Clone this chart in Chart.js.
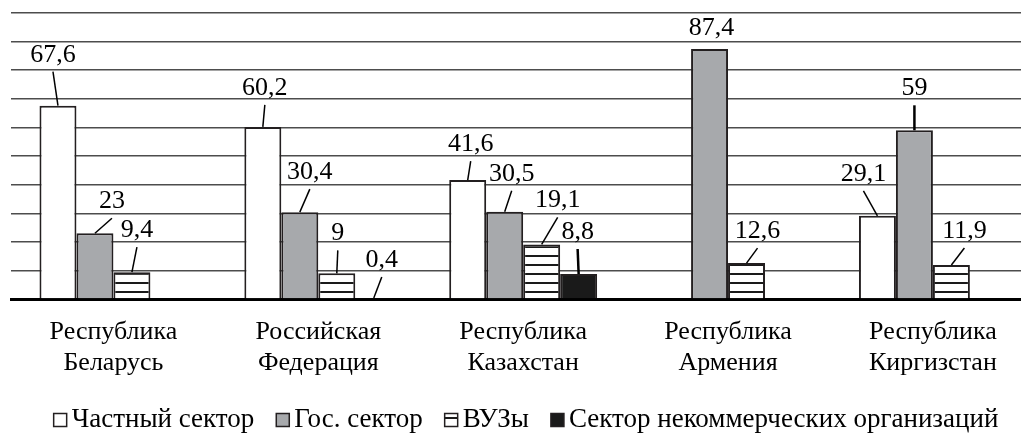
<!DOCTYPE html>
<html>
<head>
<meta charset="utf-8">
<script src="https://cdn.jsdelivr.net/npm/chart.js@4"></script>
<style>
  body { margin: 0; background: #fff; }
</style>
</head>
<body>
<canvas id="myChart" width="1021" height="434"></canvas>
<script>
// data
var categories = [
    ['Республика', 'Беларусь'],
    ['Российская', 'Федерация'],
    ['Республика', 'Казахстан'],
    ['Республика', 'Армения'],
    ['Республика', 'Киргизстан']
];
var seriesNames = ['Частный сектор', 'Гос. сектор', 'ВУЗы', 'Сектор некоммерческих организаций'];
var privateSector = [67.6, 60.2, 41.6, null, 29.1];
var stateSector = [23, 30.4, 30.5, 87.4, 59];
var universities = [9.4, 9, 19.1, 12.6, 11.9];
var nonprofit = [null, 0.4, 8.8, null, null];
var yTicks = [0, 10, 20, 30, 40, 50, 60, 70, 80, 90, 100];

// label placement: [dx, dy, leader width] from bar top centre
var labelOffsets = [
    [[-5, -51, 1.5], [2, -39, 1.5], [3, -36, 1.5], null, [-14, -42, 1.5]],
    [[17, -32, 1.5], [10, -40, 1.5], [7, -38, 1.5], [2, -21, 0], [0, -42, 2.5]],
    [[5, -42, 1.5], [1, -40, 1.5], [16, -44, 1.5], [11, -32, 1.5], [13, -34, 1.5]],
    [null, [8, -38, 1.5], [-1, -42, 2.5], null, null]
];

var fontName = '"Liberation Serif", "Times New Roman", serif';

function stripes() {
    var c = document.createElement('canvas');
    c.width = 10;
    c.height = 9;
    var g = c.getContext('2d');
    g.fillStyle = '#fff';
    g.fillRect(0, 0, 10, 9);
    g.fillStyle = '#1a1a1a';
    g.fillRect(0, 3, 10, 2);
    return g.createPattern(c, 'repeat');
}

var ctx = document.getElementById('myChart').getContext('2d');
var stripePattern = stripes();
var fills = ['#ffffff', '#a7a9ac', stripePattern, '#1a1a1a'];
var allSeries = [privateSector, stateSector, universities, nonprofit];

function toPoints(arr) {
    return arr.map(function (v, i) { return { x: i, y: v }; });
}

var valueLabels = {
    id: 'valueLabels',
    afterDatasetsDraw: function (chart) {
        var c = chart.ctx;
        c.save();
        c.font = '26px ' + fontName;
        c.fillStyle = '#000';
        c.textAlign = 'center';
        c.textBaseline = 'middle';
        chart.data.datasets.forEach(function (ds, d) {
            var meta = chart.getDatasetMeta(d);
            meta.data.forEach(function (bar, i) {
                var v = allSeries[d][i];
                if (v === null) return;
                var off = labelOffsets[d][i];
                var lx = bar.x + off[0], ly = bar.y + off[1];
                if (off[2] > 0) {
                    c.beginPath();
                    c.strokeStyle = '#000';
                    c.lineWidth = off[2];
                    c.moveTo(lx, ly + 17);
                    c.lineTo(bar.x, bar.y);
                    c.stroke();
                }
                c.fillText(String(v).replace('.', ','), lx, ly);
            });
        });
        c.restore();
    }
};

// legend drawn by hand so the marker sits right next to its text
var customLegend = {
    id: 'customLegend',
    afterDraw: function (chart) {
        var c = chart.ctx;
        c.save();
        c.font = '27px ' + fontName;
        var box = 13, gapIn = 5, gapOut = 22;
        var widths = seriesNames.map(function (t) { return c.measureText(t).width; });
        var total = 0;
        widths.forEach(function (w) { total += box + gapIn + w; });
        total += gapOut * (seriesNames.length - 1);
        var x = 526 - total / 2;
        var y = 420;
        c.textBaseline = 'middle';
        c.textAlign = 'left';
        seriesNames.forEach(function (t, k) {
            c.fillStyle = fills[k];
            c.fillRect(x, y - box / 2, box, box);
            c.strokeStyle = '#231f20';
            c.lineWidth = 1.5;
            c.strokeRect(x, y - box / 2, box, box);
            c.fillStyle = '#000';
            c.fillText(t, x + box + gapIn, y);
            x += box + gapIn + widths[k] + gapOut;
        });
        c.restore();
    }
};

var myChart = new Chart(ctx, {
    type: 'bar',
    data: {
        datasets: seriesNames.map(function (name, k) {
            return {
                label: name,
                data: toPoints(allSeries[k]),
                backgroundColor: fills[k],
                borderColor: '#231f20',
                borderWidth: 2,
                categoryPercentage: 0.722,
                barPercentage: 1.0
            };
        })
    },
    options: {
        responsive: false,
        animation: false,
        layout: {
            padding: { left: 11, top: 13, right: 0, bottom: 38 }
        },
        plugins: {
            legend: { display: false },
            tooltip: { enabled: false }
        },
        scales: {
            x: {
                type: 'linear',
                offset: false,
                min: -0.5,
                max: 4.43,
                grid: { display: false, drawTicks: false },
                border: { display: true, color: '#000', width: 3 },
                afterBuildTicks: function (scale) {
                    scale.ticks = categories.map(function (c, i) { return { value: i }; });
                },
                ticks: {
                    autoSkip: false,
                    maxRotation: 0,
                    padding: 17.5,
                    color: '#000',
                    font: { family: fontName, size: 26, lineHeight: 1.19 },
                    callback: function (value) {
                        return categories[value] || '';
                    }
                }
            },
            y: {
                min: 0,
                max: 100,
                afterBuildTicks: function (scale) {
                    scale.ticks = yTicks.map(function (v) { return { value: v }; });
                },
                ticks: { display: false },
                border: { display: false },
                grid: { color: '#4d4d4d', lineWidth: 1.5, drawTicks: false }
            }
        }
    },
    plugins: [valueLabels, customLegend]
});
</script>
</body>
</html>
